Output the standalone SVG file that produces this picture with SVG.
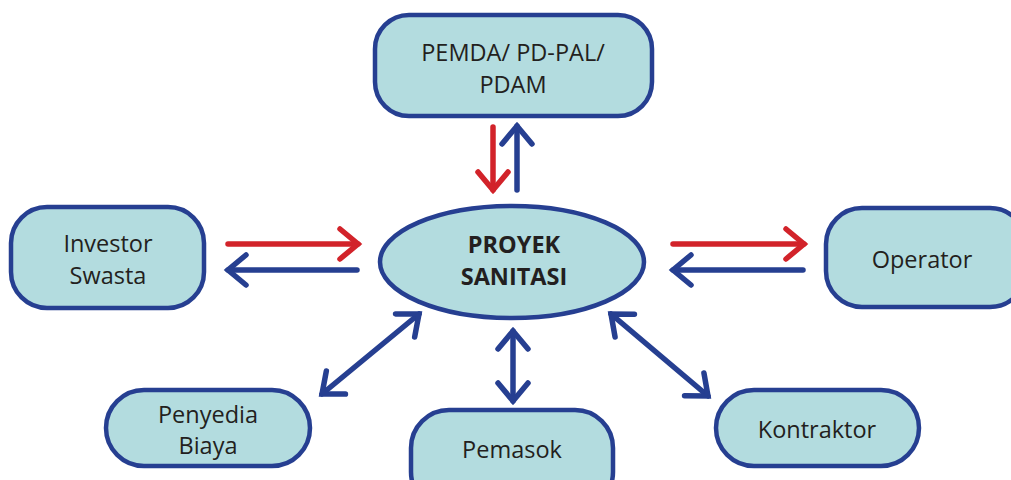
<svg xmlns="http://www.w3.org/2000/svg" width="1011" height="480" viewBox="0 0 1011 480">
<style>
.box{fill:#b3dcdf;stroke:#263f91;stroke-width:4.5}
.t{font-family:"Open Sans","Liberation Sans",sans-serif;font-size:23.5px;fill:#231f20;text-anchor:middle}
.b{font-weight:bold;font-size:23.5px}
.blue{stroke:#263f91;stroke-width:5.5;fill:none;stroke-linecap:round}
.red{stroke:#d2232a;stroke-width:5.5;fill:none;stroke-linecap:round}
</style>
<defs>
<marker id="hb" markerUnits="userSpaceOnUse" viewBox="-26 -20 30 40" markerWidth="30" markerHeight="40" refX="0" refY="0" orient="auto-start-reverse" overflow="visible">
<path d="M-18,-15 L0,0 L-18,15" fill="none" stroke="#263f91" stroke-width="5.5" stroke-linecap="round" stroke-linejoin="miter"/>
</marker>
<marker id="hr" markerUnits="userSpaceOnUse" viewBox="-26 -20 30 40" markerWidth="30" markerHeight="40" refX="0" refY="0" orient="auto" overflow="visible">
<path d="M-18,-15 L0,0 L-18,15" fill="none" stroke="#d2232a" stroke-width="5.5" stroke-linecap="round" stroke-linejoin="miter"/>
</marker>
</defs>
<rect width="1011" height="480" fill="#fff"/>
<g id="connectors">
<line class="red" x1="493" y1="127" x2="493" y2="190" marker-end="url(#hr)"/>
<line class="blue" x1="517" y1="190" x2="517" y2="126" marker-end="url(#hb)"/>
<line class="red" x1="228" y1="244" x2="358" y2="244" marker-end="url(#hr)"/>
<line class="blue" x1="357" y1="270" x2="228" y2="270" marker-end="url(#hb)"/>
<line class="red" x1="673" y1="244" x2="804" y2="244" marker-end="url(#hr)"/>
<line class="blue" x1="803" y1="270" x2="673" y2="270" marker-end="url(#hb)"/>
<line class="blue" x1="322" y1="394" x2="419" y2="314" marker-start="url(#hb)" marker-end="url(#hb)"/>
<line class="blue" x1="513" y1="331" x2="513" y2="401" marker-start="url(#hb)" marker-end="url(#hb)"/>
<line class="blue" x1="611" y1="314" x2="708" y2="396" marker-start="url(#hb)" marker-end="url(#hb)"/>
</g>
<g id="pemda">
<rect class="box" x="375" y="15" width="277" height="101" rx="34"/>
<text class="t" x="513" y="61">PEMDA/ PD-PAL/</text>
<text class="t" x="513" y="93">PDAM</text>
</g>
<g id="proyek">
<ellipse class="box" cx="512" cy="262" rx="132" ry="56"/>
<text class="t b" x="514" y="253">PROYEK</text>
<text class="t b" x="514" y="285">SANITASI</text>
</g>
<g id="investor">
<rect class="box" x="11" y="207" width="193" height="101" rx="36"/>
<text class="t" x="108" y="252">Investor</text>
<text class="t" x="108" y="284">Swasta</text>
</g>
<g id="operator">
<rect class="box" x="826" y="208" width="200" height="99" rx="36"/>
<text class="t" x="922" y="268">Operator</text>
</g>
<g id="penyedia">
<rect class="box" x="106" y="390" width="204" height="76" rx="38"/>
<text class="t" x="208" y="423">Penyedia</text>
<text class="t" x="208" y="454">Biaya</text>
</g>
<g id="pemasok">
<rect class="box" x="411" y="410" width="202" height="100" rx="38"/>
<text class="t" x="512" y="458">Pemasok</text>
</g>
<g id="kontraktor">
<rect class="box" x="716" y="390" width="203" height="76" rx="38"/>
<text class="t" x="817" y="438">Kontraktor</text>
</g>
</svg>
